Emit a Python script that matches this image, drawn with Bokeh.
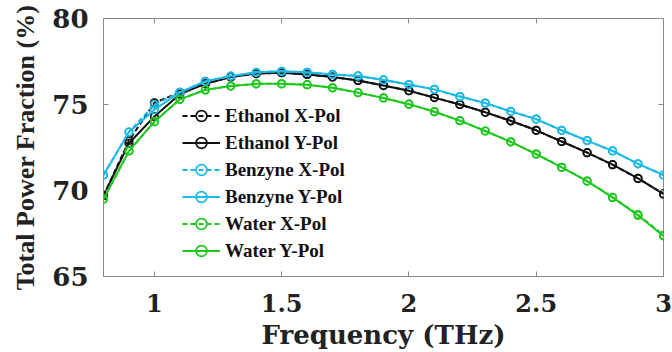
from bokeh.plotting import figure
from bokeh.models import Legend, LegendItem, LinearAxis, FixedTicker, Range1d
from bokeh.embed import file_html
from bokeh.resources import INLINE

freq = [0.8, 0.9, 1.0, 1.1, 1.2, 1.3, 1.4, 1.5, 1.6, 1.7, 1.8, 1.9, 2.0,
        2.1, 2.2, 2.3, 2.4, 2.5, 2.6, 2.7, 2.8, 2.9, 3.0]

ethanol_x = [69.7, 72.9, 75.1, 75.7, 76.2, 76.6, 76.8, 76.85, 76.75, 76.6, 76.4, 76.1, 75.8,
             75.4, 75.0, 74.55, 74.05, 73.5, 72.85, 72.2, 71.5, 70.7, 69.8]
ethanol_y = [69.7, 72.75, 74.3, 75.6, 76.2, 76.6, 76.8, 76.85, 76.75, 76.6, 76.4, 76.1, 75.8,
             75.4, 75.0, 74.55, 74.05, 73.5, 72.85, 72.2, 71.5, 70.7, 69.8]
benzyne_x = [70.9, 73.4, 75.0, 75.7, 76.35, 76.65, 76.87, 76.93, 76.87, 76.75, 76.66, 76.43, 76.16,
             75.88, 75.46, 75.08, 74.6, 74.15, 73.5, 72.9, 72.3, 71.55, 70.9]
benzyne_y = [70.9, 73.4, 74.7, 75.7, 76.35, 76.65, 76.87, 76.93, 76.87, 76.75, 76.66, 76.43, 76.16,
             75.88, 75.46, 75.08, 74.6, 74.15, 73.5, 72.9, 72.3, 71.55, 70.9]
water_x = [69.5, 72.3, 74.0, 75.3, 75.85, 76.07, 76.2, 76.2, 76.15, 75.97, 75.69, 75.38, 75.02,
           74.58, 74.06, 73.46, 72.83, 72.12, 71.35, 70.55, 69.6, 68.6, 67.4]
water_y = [69.5, 72.3, 74.0, 75.3, 75.85, 76.07, 76.2, 76.2, 76.15, 75.97, 75.69, 75.38, 75.02,
           74.58, 74.06, 73.46, 72.83, 72.12, 71.35, 70.55, 69.6, 68.55, 67.35]

labels = ["Ethanol X-Pol", "Ethanol Y-Pol", "Benzyne X-Pol", "Benzyne Y-Pol",
          "Water X-Pol", "Water Y-Pol"]
x_ticks = [1, 1.5, 2, 2.5, 3]
y_ticks = [65, 70, 75, 80]
x_title = "Frequency (THz)"
y_title = "Total Power Fraction (%)"

BLACK = "#111111"
CYAN = "#1cb9e6"
GREEN = "#1ec81e"
SERIF = "Liberation Serif"
WIDE_SERIF = "DejaVu Serif"

p = figure(width=672, height=352, output_backend="svg", toolbar_location=None,
           x_range=Range1d(0.8, 3.0), y_range=Range1d(65, 80),
           min_border_left=103, min_border_right=9, min_border_top=18, min_border_bottom=72)
p.grid.visible = False
p.outline_line_color = "#8a8a8a"
p.outline_line_width = 1
p.background_fill_color = "white"
p.border_fill_color = "white"

series = [(ethanol_x, BLACK, "5 3"), (ethanol_y, BLACK, "solid"),
          (benzyne_x, CYAN, "5 3"), (benzyne_y, CYAN, "solid"),
          (water_x, GREEN, "5 3"), (water_y, GREEN, "solid")]
items = []
for (ys, col, dash), lab in zip(series, labels):
    r1 = p.line(freq, ys, line_color=col, line_width=2, line_dash=dash)
    r2 = p.scatter(freq, ys, marker="circle", size=7.5, fill_color="white", fill_alpha=0.0,
                   line_color=col, line_width=1.7)
    items.append(LegendItem(label=lab, renderers=[r1, r2]))

for ax in (p.xaxis[0], p.yaxis[0]):
    ax.axis_line_color = "#8a8a8a"
    ax.major_tick_line_color = "#8a8a8a"
    ax.major_tick_in = 5
    ax.major_tick_out = 0
    ax.minor_tick_line_color = None
    ax.major_label_text_font = WIDE_SERIF
    ax.major_label_text_font_style = "bold"
    ax.major_label_text_color = "#222222"
    ax.axis_label_text_font_style = "bold"
    ax.axis_label_text_color = "#222222"

p.xaxis.ticker = FixedTicker(ticks=x_ticks)
p.yaxis.ticker = FixedTicker(ticks=y_ticks)
p.xaxis.major_label_text_font_size = "24px"
p.yaxis.major_label_text_font_size = "26px"
p.xaxis.major_label_standoff = 17
p.yaxis.major_label_standoff = 15
p.xaxis.axis_label = x_title
p.xaxis.axis_label_text_font = WIDE_SERIF
p.xaxis.axis_label_text_font_size = "26px"
p.xaxis.axis_label_standoff = 5
p.yaxis.axis_label = y_title
p.yaxis.axis_label_text_font = SERIF
p.yaxis.axis_label_text_font_size = "26px"
p.yaxis.axis_label_standoff = 9

top = LinearAxis(ticker=FixedTicker(ticks=x_ticks), major_label_overrides={t: "" for t in x_ticks},
                 major_label_standoff=0,
                 axis_line_color=None, major_tick_line_color="#8a8a8a",
                 major_tick_in=5, major_tick_out=0, minor_tick_line_color=None)
right = LinearAxis(ticker=FixedTicker(ticks=y_ticks), major_label_overrides={t: "" for t in y_ticks},
                   major_label_standoff=0,
                   axis_line_color=None, major_tick_line_color="#8a8a8a",
                   major_tick_in=5, major_tick_out=0, minor_tick_line_color=None)
p.add_layout(top, "above")
p.add_layout(right, "right")

legend = Legend(items=items, location=(79, 12), background_fill_alpha=0.0,
                border_line_color=None, padding=4, spacing=0,
                glyph_width=38, glyph_height=27, label_height=27,
                label_text_font=SERIF, label_text_font_style="bold",
                label_text_font_size="19px", label_text_color="#111111",
                label_standoff=5)
p.add_layout(legend, "center")

open("out.html", "w").write(file_html(p, INLINE))
